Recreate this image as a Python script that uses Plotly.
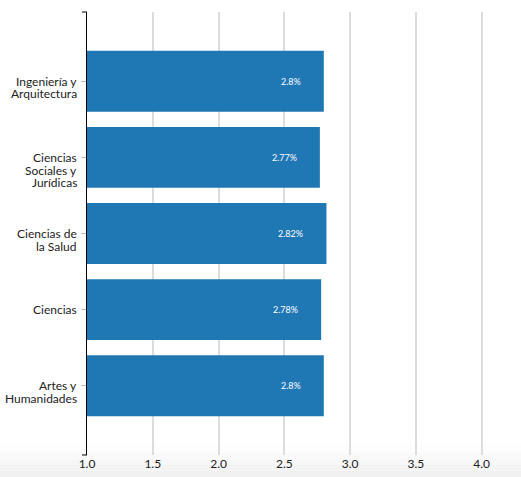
import plotly.graph_objects as go

categories = ["Ingeniería y<br>Arquitectura", "Ciencias<br>Sociales y<br>Jurídicas",
              "Ciencias de<br>la Salud", "Ciencias", "Artes y<br>Humanidades"]
values = [2.8, 2.77, 2.82, 2.78, 2.8]
labels = ["2.8%", "2.77%", "2.82%", "2.78%", "2.8%"]
x_ticks = [1.0, 1.5, 2.0, 2.5, 3.0, 3.5, 4.0]
x_ticktext = ["1.0", "1.5", "2.0", "2.5", "3.0", "3.5", "4.0"]

FONT = "Lato, 'Open Sans', sans-serif"
BASE = 1.0
LINE_H = 12.7

fig = go.Figure()
fig.add_trace(go.Bar(
    y=categories, x=[v - BASE for v in values], orientation="h",
    base=BASE,
    marker=dict(color="#1f77b4", line=dict(width=0)),
    width=0.8,
    hoverinfo="skip",
))

# value labels inside the bar ends
for c, v, t in zip(categories, values, labels):
    fig.add_annotation(x=v, y=c, text=t, showarrow=False, xanchor="right",
                       xshift=-21, font=dict(color="white", size=9, family=FONT))

# category labels: first line aligned with the tick, following lines below
for c in categories:
    for i, line in enumerate(c.split("<br>")):
        fig.add_annotation(x=0, xref="paper", y=c, yref="y", text=line,
                           showarrow=False, xanchor="right", yanchor="middle",
                           xshift=-8, yshift=-i * LINE_H,
                           font=dict(color="#222", size=12, family=FONT))

L, R, T, B = 87, 13, 12, 22
W, H = 521, 477
pw, ph = W - L - R, H - T - B

shapes = []
# subtle gradient strip at the bottom of the page
grad = ["#fdfdfd", "#fafafa", "#f7f7f7", "#f4f4f4", "#f1f1f1"]
n = len(grad)
strip_top = 0.02
strip_bot = -B / ph
for i, col in enumerate(grad):
    y1 = strip_top + (strip_bot - strip_top) * i / n
    y0 = strip_top + (strip_bot - strip_top) * (i + 1) / n
    shapes.append(dict(type="rect", xref="paper", yref="paper",
                       x0=-L / pw, x1=1 + R / pw, y0=y0, y1=y1,
                       fillcolor=col, line=dict(width=0), layer="below"))
shapes += [
    dict(type="line", xref="paper", yref="paper", x0=-5 / pw, x1=0,
         y0=1, y1=1, line=dict(color="black", width=1)),
    dict(type="line", xref="paper", yref="paper", x0=-5 / pw, x1=0,
         y0=0, y1=0, line=dict(color="black", width=1)),
]

fig.update_layout(
    width=W, height=H,
    margin=dict(l=L, r=R, t=T, b=B),
    paper_bgcolor="white", plot_bgcolor="rgba(0,0,0,0)",
    showlegend=False,
    font=dict(family=FONT, size=12, color="#222"),
    xaxis=dict(range=[1.0, 4.2], tickvals=x_ticks, ticktext=x_ticktext,
               showgrid=True, gridcolor="#dcdcdc", gridwidth=2,
               zeroline=False, showline=False, ticks="", ticklen=0,
               automargin=False,
               tickfont=dict(size=12, color="#222"), fixedrange=True),
    yaxis=dict(autorange=False, range=[4.91, -0.91], type="category",
               showline=True, linecolor="black", linewidth=1,
               ticks="outside", ticklen=5, tickcolor="#bbbbbb",
               showticklabels=False,
               showgrid=False, zeroline=False, automargin=False,
               fixedrange=True),
    shapes=shapes,
)

fig.write_html("out.html", config={"displayModeBar": False},
               post_script="document.body.style.margin='0';document.body.style.overflow='hidden';")
